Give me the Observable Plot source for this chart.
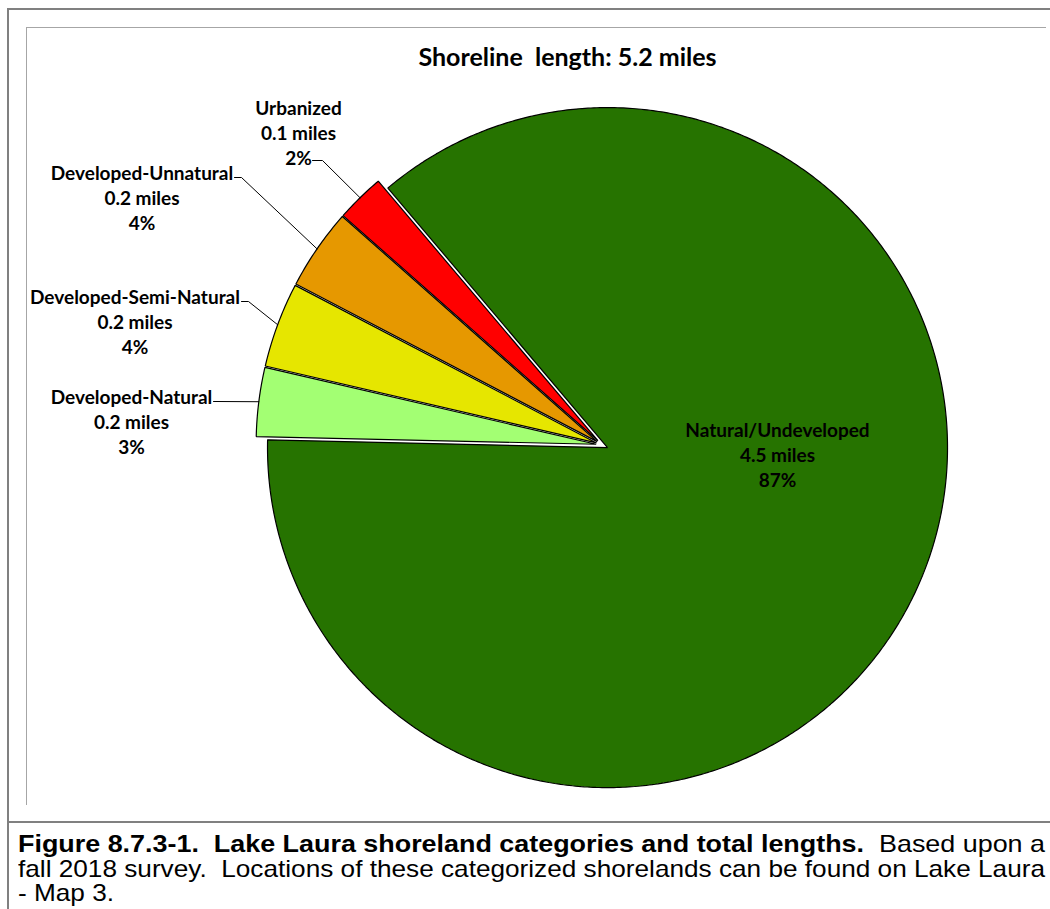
<!DOCTYPE html>
<html><head><meta charset="utf-8">
<script src="https://cdn.jsdelivr.net/npm/d3@7"></script>
<script src="https://cdn.jsdelivr.net/npm/@observablehq/plot@0.6"></script>
<style>
html,body{margin:0;padding:0;background:#fff;}
#wrap{position:relative;width:1050px;height:909px;overflow:hidden;}
#chart{position:absolute;left:0;top:0;}
.ln{position:absolute;background:#808080;}
.in{position:absolute;background:#a6a6a6;}
#cap{position:absolute;left:18px;top:832px;font-family:"Liberation Sans Narrow","Arial Narrow","Liberation Sans",Arial,sans-serif;font-size:24px;line-height:24.5px;color:#000;}
#cap div{white-space:pre;transform-origin:0 0;width:max-content;}
</style></head><body>
<div id="wrap">
 <div id="chart"></div>
 <div class="ln" style="left:7px;top:8px;width:1043px;height:2px"></div>
 <div class="ln" style="left:7px;top:8px;width:2px;height:901px"></div>
 <div class="ln" style="left:7px;top:821px;width:1043px;height:2px"></div>
 <div class="in" style="left:26px;top:27px;width:1020px;height:1px"></div>
 <div class="in" style="left:26px;top:27px;width:1px;height:778px"></div>
 <div id="cap">
  <div id="c1"><b>Figure 8.7.3-1.  Lake Laura shoreland categories and total lengths.</b>  Based upon a</div>
  <div id="c2">fall 2018 survey.  Locations of these categorized shorelands can be found on Lake Laura</div>
  <div id="c3">- Map 3.</div>
 </div>
</div>
<script>
// ---- data (clockwise order starting at the left of the pie) ----
const categories = ["Developed-Natural", "Developed-Semi-Natural", "Developed-Unnatural", "Urbanized", "Natural/Undeveloped"];
const miles = [0.17, 0.21, 0.20, 0.12, 4.50];
const colors = ["#a3ff73", "#e6e600", "#e69800", "#ff0000", "#267300"];
const titleLabel = "Shoreline  length:";

// ---- layout ----
const W = 1050, H = 822;
const cx = 601.6, cy = 444.5, R = 340, explode = 6, startAngle = 271.3;
const labelLayout = { // label block centre (px) and leader elbow points
  "Developed-Natural":      {x: 131,   y: 420, lead: [[213, 401]]},
  "Developed-Semi-Natural": {x: 134.5, y: 320, lead: [[241, 301], [248, 301]]},
  "Developed-Unnatural":    {x: 141.5, y: 196, lead: [[234, 177], [241, 177]]},
  "Urbanized":              {x: 298,   y: 131.5, lead: [[312, 160], [322, 160]]},
  "Natural/Undeveloped":    {x: 777,   y: 453, lead: null}
};

const total = d3.sum(miles);
const rad = d => d * Math.PI / 180;
let a = startAngle;
const slices = categories.map((c, i) => {
  const span = miles[i] / total * 360;
  const s = {cat: c, miles: miles[i], a0: a, a1: a + span, mid: a + span / 2};
  a += span;
  s.ox = explode * Math.sin(rad(s.mid));
  s.oy = -explode * Math.cos(rad(s.mid));
  return s;
});

const polyPts = [];
for (const s of slices) {
  polyPts.push({cat: s.cat, x: cx + s.ox, y: cy + s.oy});
  const n = Math.max(2, Math.ceil((s.a1 - s.a0) / 0.5));
  for (let k = 0; k <= n; k++) {
    const t = s.a0 + (s.a1 - s.a0) * k / n;
    polyPts.push({cat: s.cat, x: cx + s.ox + R * Math.sin(rad(t)), y: cy + s.oy - R * Math.cos(rad(t))});
  }
}

const leaderPts = [];
for (const s of slices) {
  const L = labelLayout[s.cat];
  if (!L.lead) continue;
  L.lead.forEach(p => leaderPts.push({cat: s.cat, x: p[0], y: p[1]}));
  leaderPts.push({cat: s.cat, x: cx + s.ox + R * Math.sin(rad(s.mid)), y: cy + s.oy - R * Math.cos(rad(s.mid))});
}

const labels = slices.map(s => ({
  cat: s.cat, x: labelLayout[s.cat].x, y: labelLayout[s.cat].y,
  text: `${s.cat}\n${s.miles.toFixed(1)} miles\n${Math.round(s.miles / total * 100)}%`
}));

const chart = Plot.plot({
  width: W, height: H, margin: 0,
  x: {domain: [0, W], range: [0, W], axis: null},
  y: {domain: [0, H], range: [0, H], axis: null},
  color: {domain: categories, range: colors},
  marks: [
    Plot.line(polyPts, {x: "x", y: "y", z: "cat", fill: "cat", stroke: "#000", strokeWidth: 1.2, curve: "linear-closed", strokeLinejoin: "miter"}),
    Plot.line(leaderPts, {x: "x", y: "y", z: "cat", stroke: "#000", strokeWidth: 1}),
    Plot.text(labels, {x: "x", y: "y", text: "text", lineAnchor: "middle", lineHeight: 1.316, fontSize: 19, fontWeight: "bold", fontFamily: "Lato", fill: "#000"}),
    Plot.text([`${titleLabel} ${total.toFixed(1)} miles`], {x: () => 567, y: () => 57, text: d => d, fontSize: 25, fontWeight: "bold", fontFamily: "Lato", fill: "#000"})
  ]
});
document.getElementById("chart").appendChild(chart);

// fit caption lines to the justified width of the original
const target = 1027;
const c1 = document.getElementById("c1"), c2 = document.getElementById("c2"), c3 = document.getElementById("c3");
const s1 = target / c1.getBoundingClientRect().width;
const s2 = target / c2.getBoundingClientRect().width;
c1.style.transform = `scaleX(${s1})`;
c2.style.transform = `scaleX(${s2})`;
c3.style.transform = `scaleX(${s2})`;
</script>
</body></html>
